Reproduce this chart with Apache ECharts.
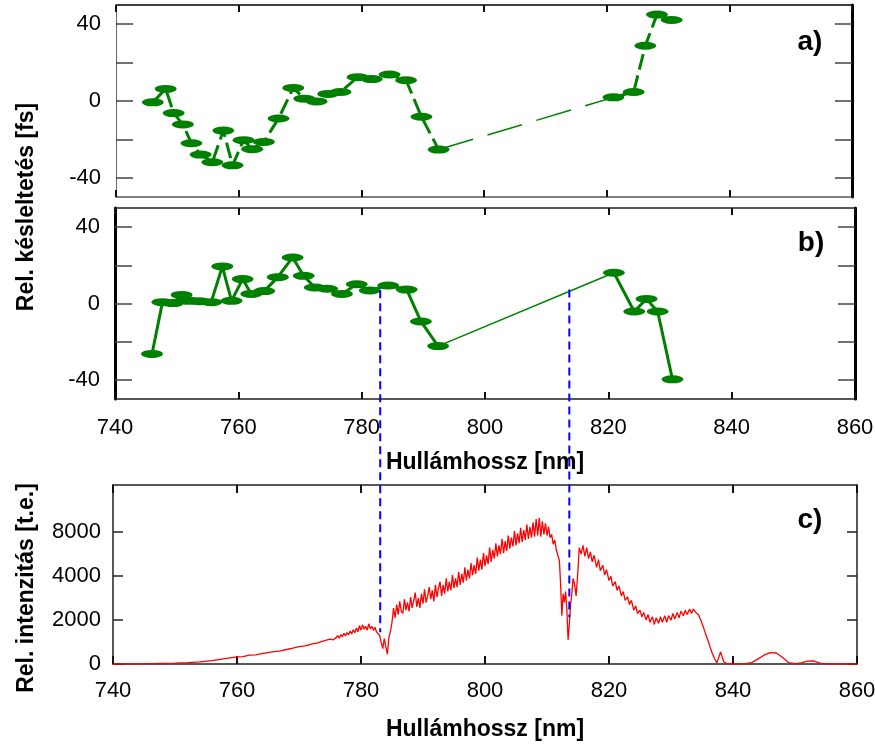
<!DOCTYPE html>
<html>
<head>
<meta charset="utf-8">
<script src="https://cdn.jsdelivr.net/npm/echarts@6/dist/echarts.min.js"></script>
<style>html,body{margin:0;padding:0;background:#fff}#c{width:875px;height:745px}</style>
</head>
<body>
<div id="c"></div>
<script>
// ---- data ----
const xTicks = [740, 760, 780, 800, 820, 840, 860];
const delayTicks = [-40, -20, 0, 20, 40];
const delayLabels = [-40, 0, 40];
const intTickValues = [0, 2000, 4000, 6000];
const intTickLabels = ['0', '2000', '4000', '8000'];

// panel a)
const aNm = [746.0, 748.1, 749.4, 750.9, 752.3, 753.8, 755.7, 757.5, 759.0, 760.8, 762.2, 764.1, 766.5, 768.9, 770.7, 772.7, 774.6, 776.6, 779.4, 781.7, 784.6, 787.3, 789.8, 792.6, 821.1, 824.4, 826.3, 828.2, 830.6];
const aDelay = [-0.7, 6.3, -6.3, -12.2, -22.0, -27.9, -31.9, -15.4, -33.5, -20.4, -25.1, -21.3, -9.1, 6.8, 1.2, -0.2, 3.7, 4.7, 12.4, 11.4, 13.8, 10.8, -8.2, -25.3, 1.9, 4.7, 28.8, 45.0, 42.2];
// panel b)
const bNm = [746.0, 747.7, 749.4, 750.8, 752.0, 753.7, 755.6, 757.4, 758.9, 760.7, 762.1, 764.2, 766.4, 768.8, 770.6, 772.4, 774.4, 776.8, 779.2, 781.3, 784.3, 787.3, 789.6, 792.4, 820.9, 824.2, 826.2, 828.0, 830.4];
const bDelay = [-26.4, 0.7, 0.2, 4.5, 1.4, 1.2, 0.7, 19.4, 1.4, 12.8, 5.0, 6.5, 13.8, 24.1, 14.5, 8.4, 7.7, 5.0, 10.1, 6.8, 9.4, 7.3, -9.4, -22.3, 16.1, -4.2, 2.4, -4.2, -39.7];
const gapStart = 23; // last point before the large gap

// panel c) spectrum
const cNm = [
  740, 742, 744, 746, 748, 750, 752, 754, 756, 758, 760, 761, 762, 763, 764, 765, 766, 767, 768, 769, 770, 771, 772, 773, 774, 775, 775.5,
  776, 776.25, 776.5, 776.75, 777, 777.25, 777.5, 777.75, 778, 778.25, 778.5, 778.75, 779, 779.25, 779.5, 779.75,
  780, 780.25, 780.5, 780.75, 781, 781.25, 781.5, 781.75, 782, 782.25, 782.5, 782.75, 783, 783.25, 783.5, 783.75,
  784, 784.25, 784.5, 784.75,
  785, 785.25, 785.5, 785.75, 786, 786.25, 786.5, 786.75, 787, 787.25, 787.5, 787.75, 788, 788.25, 788.5, 788.75,
  789, 789.25, 789.5, 789.75, 790, 790.25, 790.5, 790.75, 791, 791.25, 791.5, 791.75, 792, 792.25, 792.5, 792.75,
  793, 793.25, 793.5, 793.75, 794, 794.25, 794.5, 794.75, 795, 795.25, 795.5, 795.75, 796, 796.25, 796.5, 796.75,
  797, 797.25, 797.5, 797.75, 798, 798.25, 798.5, 798.75, 799, 799.25, 799.5, 799.75, 800, 800.25, 800.5, 800.75,
  801, 801.25, 801.5, 801.75, 802, 802.25, 802.5, 802.75, 803, 803.25, 803.5, 803.75, 804, 804.25, 804.5, 804.75,
  805, 805.25, 805.5, 805.75, 806, 806.25, 806.5, 806.75, 807, 807.25, 807.5, 807.75, 808, 808.25, 808.5, 808.75,
  809, 809.25, 809.5, 809.75, 810, 810.25, 810.5, 810.75, 811, 811.25, 811.5, 811.75, 812,
  812.2, 812.4, 812.6, 812.8, 813, 813.2, 813.4, 813.6, 813.8, 814, 814.2, 814.4, 814.7,
  815, 815.2, 815.5, 815.8, 816.1, 816.4, 816.7, 817, 817.3, 817.6, 818, 818.3, 818.6, 819, 819.3, 819.6,
  820, 820.3, 820.6, 821, 821.3, 821.6, 822, 822.3, 822.6, 823, 823.3, 823.6, 824, 824.3, 824.6,
  825, 825.3, 825.6, 826, 826.3, 826.6, 827, 827.3, 827.6, 828, 828.3, 828.6, 829, 829.3, 829.6,
  830, 830.3, 830.6, 831, 831.3, 831.6, 832, 832.3, 832.6, 833, 833.3, 833.6, 834, 834.4, 834.8,
  835.2, 835.6, 836, 836.5, 837, 837.4, 837.7, 838, 838.2, 838.5, 839, 840, 842, 843, 844, 845, 846, 847, 848, 849,
  850, 851, 852, 853, 854, 855, 856, 857, 858, 860
];
const cVal = [
  0, 10, 0, 20, 30, 40, 60, 100, 150, 240, 320, 340, 400, 420, 470, 520, 560, 600, 660, 720, 790, 830, 900, 960, 1050, 1130, 1100,
  1200, 1300, 1170, 1340, 1240, 1400, 1280, 1430, 1320, 1500, 1370, 1560, 1420, 1640, 1470, 1740,
  1540, 1790, 1580, 1720, 1540, 1830, 1600, 1720, 1530, 1670, 1460, 1420, 1300, 1000, 700, 1150,
  800, 450, 1200, 1500,
  1900, 2550, 2100, 2700, 2250, 2850, 2400, 2300, 2950, 2450, 2800, 2400, 3050, 2550, 2900, 3250,
  2600, 3000, 2550, 3200, 2750, 3400, 2800, 3100, 3500, 2950, 3350, 2850, 3600, 3050, 3450, 3750,
  3100, 3600, 3200, 3900, 3300, 3750, 3350, 4050, 3450, 3900, 3500, 4200, 3600, 4100, 3700, 4400,
  3800, 4300, 3900, 4600, 4050, 4500, 4100, 4850, 4250, 4750, 4300, 5050, 4450, 4950, 4550, 5300,
  4650, 5200, 4800, 5500, 4900, 5400, 5000, 5700, 5050, 5600, 5150, 5850, 5250, 5750, 5350, 6050,
  5400, 5950, 5500, 6200, 5550, 6100, 5650, 6350, 5700, 6250, 5750, 6450, 5800, 6600, 5850, 6650,
  5800, 6500, 5900, 6400, 5850, 6250, 5750, 5900, 5450, 5650, 5200, 5200, 4700,
  3600, 2200, 3200, 2800, 3300, 2500, 1100, 1800, 2700, 3200, 3900, 3700, 3100,
  4300, 5300, 5000, 5400, 4900, 5300, 4800, 5100, 4650, 4950, 4400, 4750, 4250, 4500, 4050, 4300,
  3800, 4000, 3550, 3750, 3350, 3550, 3100, 3300, 2900, 3050, 2700, 2900, 2450, 2650, 2300,
  2450, 2150, 2350, 2000, 2250, 1900, 2150, 1800, 2100, 1850, 2150, 1900, 2200, 1900, 2200,
  2000, 2300, 2050, 2350, 2100, 2400, 2200, 2450, 2250, 2500, 2300, 2500, 2350, 2250, 2000,
  1700, 1350, 1050, 600, 250, 50, 100, 550, 600, 100, 20, 0, 20, 60, 220, 400, 520, 500, 300, 60,
  20, 50, 130, 140, 40, 0, 20, 0, 10, 0
];

// guide lines (wavelength, delay at top in panel b, intensity at bottom in panel c)
const guideNm = [783.1, 813.6];
const guideDelay = [7.0, 7.3];
const guideIntensity = [1440, 2130];

// ---- chart ----
const FONT = 'Liberation Sans, Arial, sans-serif';
const GREEN = '#008000';
const chart = echarts.init(document.getElementById('c'), null, {renderer: 'canvas'});
const pairs = (xs, ys) => xs.map((x, i) => [x, ys[i]]);

function xAx(grid, pos, lineW, lineC, showLabel, tickLen, name, nameGap, labelMargin) {
  return {
    gridIndex: grid, type: 'value', min: xTicks[0], max: xTicks[xTicks.length - 1], interval: 20, position: pos,
    axisLine: {show: true, onZero: false, lineStyle: {color: lineC, width: lineW}},
    axisTick: {show: true, inside: true, length: tickLen, lineStyle: {color: '#111', width: 2}},
    axisLabel: {show: showLabel, fontSize: 22, color: '#000', fontFamily: FONT, margin: labelMargin || 18},
    splitLine: {show: false},
    name: name || '', nameLocation: 'middle', nameGap: nameGap || 0,
    nameTextStyle: {fontSize: 23, fontWeight: 'bold', color: '#000', fontFamily: FONT, verticalAlign: 'middle'}
  };
}
function yDelay(grid, pos, lineW, lineC, showLabel) {
  return {
    gridIndex: grid, type: 'value', min: -50, max: 50, position: pos,
    axisLine: {show: true, onZero: false, lineStyle: {color: lineC, width: lineW}},
    axisTick: {show: true, inside: true, length: 17, customValues: delayTicks, lineStyle: {color: '#444', width: 1.5}},
    axisLabel: {show: showLabel, customValues: delayLabels, fontSize: 22, color: '#000', fontFamily: FONT, margin: 15},
    splitLine: {show: false}
  };
}
function yInt(grid, pos, showLabel) {
  return {
    gridIndex: grid, type: 'value', min: 0, max: 8150, position: pos,
    axisLine: {show: true, onZero: false, lineStyle: {color: '#222', width: 1.5}},
    axisTick: {show: true, inside: true, length: 10, customValues: intTickValues, lineStyle: {color: '#222', width: 1.5}},
    axisLabel: {show: showLabel, customValues: intTickValues, fontSize: 22, color: '#000', fontFamily: FONT, margin: 12,
      formatter: v => intTickLabels[intTickValues.indexOf(v)]},
    splitLine: {show: false}
  };
}

function delaySeries(nm, vals, axis, dashed) {
  const pts = pairs(nm, vals);
  const thick = {color: GREEN, width: 3, type: dashed ? [16, 6] : 'solid'};
  const thin = {color: GREEN, width: 1.5, type: dashed ? [36, 15] : 'solid'};
  const sym = {symbol: 'circle', symbolSize: [22, 8], itemStyle: {color: GREEN}};
  return [
    Object.assign({type: 'line', xAxisIndex: axis, yAxisIndex: axis, data: pts.slice(0, gapStart + 1), lineStyle: thick, z: 3}, sym),
    {type: 'line', xAxisIndex: axis, yAxisIndex: axis, data: pts.slice(gapStart, gapStart + 2), lineStyle: thin, symbol: 'none', z: 2},
    Object.assign({type: 'line', xAxisIndex: axis, yAxisIndex: axis, data: pts.slice(gapStart + 1), lineStyle: thick, z: 3}, sym)
  ];
}

const option = {
  animation: false,
  backgroundColor: '#fff',
  grid: [
    {left: 116, top: 5, width: 736, height: 192, outerBoundsMode: 'none'},
    {left: 115, top: 208, width: 740, height: 191, outerBoundsMode: 'none'},
    {left: 113, top: 485, width: 744, height: 179, outerBoundsMode: 'none'}
  ],
  xAxis: [
    xAx(0, 'bottom', 1.5, '#555', false, 7),
    xAx(0, 'top', 1.5, '#000', false, 7),
    xAx(1, 'bottom', 1.5, '#222', true, 7, 'Hullámhossz [nm]', 64, 18),
    xAx(1, 'top', 1.5, '#222', false, 7),
    xAx(2, 'bottom', 1.5, '#222', true, 8, 'Hullámhossz [nm]', 66, 16),
    xAx(2, 'top', 1.5, '#222', false, 8)
  ],
  yAxis: [
    yDelay(0, 'left', 1, '#666', true),
    yDelay(0, 'right', 3, '#000', false),
    yDelay(1, 'left', 3, '#000', true),
    yDelay(1, 'right', 3, '#000', false),
    yInt(2, 'left', true),
    yInt(2, 'right', false)
  ],
  graphic: [
    {type: 'text', x: 27, y: 207, rotation: Math.PI / 2, style: {text: 'Rel. késleltetés [fs]', font: 'bold 23px ' + FONT, fill: '#000', textAlign: 'center', textVerticalAlign: 'middle'}},
    {type: 'text', x: 27, y: 588, rotation: Math.PI / 2, style: {text: 'Rel. intenzitás [t.e.]', font: 'bold 23px ' + FONT, fill: '#000', textAlign: 'center', textVerticalAlign: 'middle'}},
    {type: 'text', x: 810, y: 42, style: {text: 'a)', font: 'bold 28px ' + FONT, fill: '#000', textAlign: 'center', textVerticalAlign: 'middle'}},
    {type: 'text', x: 811, y: 243, style: {text: 'b)', font: 'bold 28px ' + FONT, fill: '#000', textAlign: 'center', textVerticalAlign: 'middle'}},
    {type: 'text', x: 810, y: 520, style: {text: 'c)', font: 'bold 28px ' + FONT, fill: '#000', textAlign: 'center', textVerticalAlign: 'middle'}}
  ],
  series: [
    ...delaySeries(aNm, aDelay, 0, true),
    ...delaySeries(bNm, bDelay, 2, false),
    {type: 'line', xAxisIndex: 4, yAxisIndex: 4, data: pairs(cNm, cVal), symbol: 'none', lineStyle: {color: '#ff0000', width: 1.3}, z: 2}
  ]
};
chart.setOption(option);

// dashed guide lines from panel b) down into panel c), positioned through the axes' own scales
const guideSeries = guideNm.map((nm, i) => {
  const px = chart.convertToPixel({xAxisIndex: 2, yAxisIndex: 2}, [nm, guideDelay[i]]);
  const top = chart.convertFromPixel({xAxisIndex: 4, yAxisIndex: 4}, px);
  return {
    id: 'guide' + i, type: 'line', xAxisIndex: 4, yAxisIndex: 4, clip: false, symbol: 'none', z: 10,
    data: [[nm, top[1]], [nm, guideIntensity[i]]],
    lineStyle: {color: '#0000ff', width: 2, type: [8, 5]}
  };
});
chart.setOption({series: guideSeries});
</script>
</body>
</html>
